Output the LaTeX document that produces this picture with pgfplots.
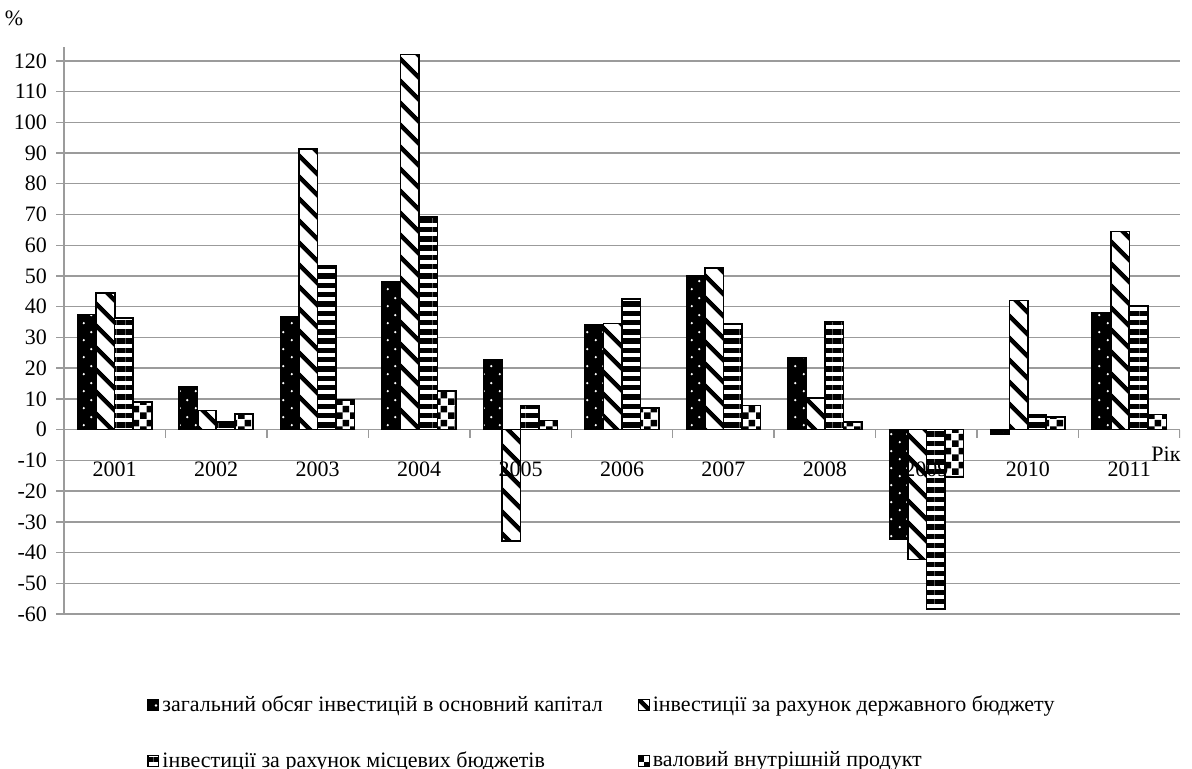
\documentclass[border=0pt]{standalone}
\usepackage{fontspec}
\setmainfont{Liberation Serif}
\usepackage{pgfplots}
\pgfplotsset{compat=1.18}
\usetikzlibrary{patterns.meta}

\tikzdeclarepattern{
  name=wdots, type=uncolored,
  bottom left={(0bp,0bp)}, top right={(8bp,8.5bp)}, tile size={(8bp,8.5bp)},
  code={\fill (2bp,2bp) circle (0.65bp); \fill (6bp,6.25bp) circle (0.65bp);}
}
\tikzdeclarepattern{
  name=chk, type=uncolored,
  bottom left={(0bp,0bp)}, top right={(7bp,7bp)}, tile size={(7bp,7bp)},
  code={\fill (0bp,0bp) rectangle (3.5bp,3.5bp); \fill (3.5bp,3.5bp) rectangle (7bp,7bp);}
}
\definecolor{gridgray}{RGB}{155,155,155}

\begin{document}
\begin{tikzpicture}[font=\fontsize{11bp}{13bp}\selectfont]
\useasboundingbox (0,0) rectangle (596bp,384.5bp);
\begin{axis}[
  at={(32bp,77.5bp)}, anchor=south west,
  scale only axis, width=558bp, height=283.5bp,
  xmin=0.5, xmax=11.5, ymin=-60, ymax=124.5,
  axis x line=middle, axis y line=left,
  axis line style={gridgray, -, line width=0.7bp},
  hide obscured x ticks=false, hide obscured y ticks=false,
  ytick={-60,-50,...,120},
  yticklabels={-60,-50,-40,-30,-20,-10,0,10,20,30,40,50,60,70,80,90,100,110,120},
  ymajorgrids, grid style={gridgray, line width=0.7bp},
  ytick style={gridgray, line width=0.7bp},
  tick align=outside, major tick length=4bp,
  yticklabel style={xshift=-1bp},
  xtick=\empty,
  ybar, bar width=9.25bp,
  legend columns=2,
  legend image code/.code={\draw[#1, line width=0.6bp] (0bp,-2.7bp) rectangle (5.4bp,2.7bp);},
  legend style={at={(axis description cs:0.0744,-0.138)}, anchor=north west,
    draw=none, fill=none, inner sep=0pt, row sep=15.5bp,
    nodes={inner sep=1.5bp},
    /tikz/every odd column/.append style={column sep=0pt},
    /tikz/every even column/.append style={column sep=16bp}},
  legend cell align=left,
]
\addplot[draw=black, line width=0.8bp, fill=black, bar shift=-13.9bp,
  postaction={pattern=wdots, pattern color=white}]
  coordinates {(1,37.5) (2,14.0) (3,36.7) (4,48.0) (5,22.8) (6,34.1) (7,50.2) (8,23.5) (9,-35.6) (10,-1.5) (11,37.9)};
\addplot[draw=black, line width=0.8bp, fill=white, bar shift=-4.6bp,
  postaction={pattern={Lines[angle=-45, distance=8.1bp, line width=2.4bp]}, pattern color=black}]
  coordinates {(1,44.4) (2,6.2) (3,91.3) (4,122.0) (5,-36.3) (6,34.5) (7,52.5) (8,10.2) (9,-42.3) (10,42.0) (11,64.5)};
\addplot[draw=black, line width=0.8bp, fill=white, bar shift=4.6bp,
  postaction={pattern={Lines[angle=0, distance=4.65bp, line width=2.7bp]}, pattern color=black}]
  coordinates {(1,36.3) (2,2.4) (3,53.3) (4,69.2) (5,7.8) (6,42.5) (7,34.3) (8,35.2) (9,-58.3) (10,4.9) (11,40.3)};
\addplot[draw=black, line width=0.8bp, fill=white, bar shift=13.9bp,
  postaction={pattern=chk, pattern color=black}]
  coordinates {(1,9.0) (2,5.0) (3,9.6) (4,12.5) (5,2.9) (6,7.0) (7,7.8) (8,2.4) (9,-15.5) (10,4.1) (11,4.9)};
\legend{загальний обсяг інвестицій в основний капітал, інвестиції за рахунок державного бюджету, інвестиції за рахунок місцевих бюджетів, валовий внутрішній продукт}
\pgfplotsinvokeforeach{1.5,2.5,...,11.5}{\draw[gridgray, line width=0.7bp] (axis cs:#1,0) -- ++(0bp,-4bp);}
\node at (axis cs:1,0) [yshift=-20bp] {2001};
\node at (axis cs:2,0) [yshift=-20bp] {2002};
\node at (axis cs:3,0) [yshift=-20bp] {2003};
\node at (axis cs:4,0) [yshift=-20bp] {2004};
\node at (axis cs:5,0) [yshift=-20bp] {2005};
\node at (axis cs:6,0) [yshift=-20bp] {2006};
\node at (axis cs:7,0) [yshift=-20bp] {2007};
\node at (axis cs:8,0) [yshift=-20bp] {2008};
\node at (axis cs:9,0) [yshift=-20bp] {2009};
\node at (axis cs:10,0) [yshift=-20bp] {2010};
\node at (axis cs:11,0) [yshift=-20bp] {2011};
\end{axis}
\node at (7bp,375.5bp) {\%};
\node at (583bp,157.5bp) {Рік};
\end{tikzpicture}
\end{document}
